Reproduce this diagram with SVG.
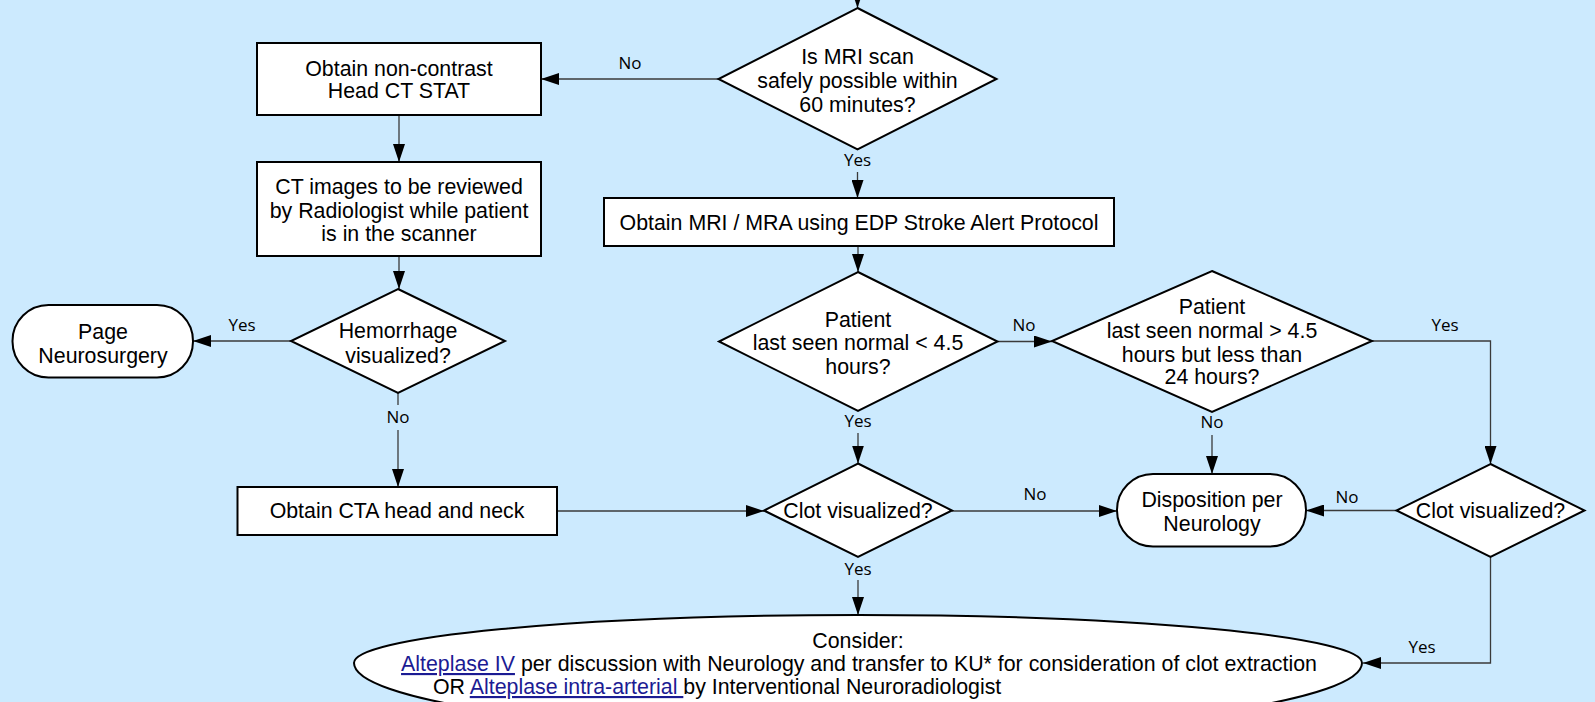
<svg xmlns="http://www.w3.org/2000/svg" width="1595" height="702" viewBox="0 0 1595 702">
<style>
.n{fill:#fff;stroke:#000;stroke-width:2}
.t{font-family:"Liberation Sans",Arial,sans-serif;font-size:21.35px;fill:#000;text-anchor:middle}
.l{font-family:"Open Sans","Noto Sans",sans-serif;font-size:17px;fill:#000;text-anchor:middle}
.c{fill:none;stroke:#3a3a3a;stroke-width:1.3}
.a{fill:#1b1b93;text-decoration:underline}
</style>
<defs>
<marker id="ah" markerUnits="userSpaceOnUse" markerWidth="18" markerHeight="12" refX="18" refY="6" orient="auto">
<path d="M0,0 L18,6 L0,12 z" fill="#000"/>
</marker>
</defs>
<rect width="1595" height="702" fill="#cceafe"/>
<g id="connectors">
<path class="c" d="M857.5,-10 V8" marker-end="url(#ah)"/>
<path class="c" d="M718.5,79 H541" marker-end="url(#ah)"/>
<text class="l" x="630" y="69">No</text>
<path class="c" d="M399,115 V162" marker-end="url(#ah)"/>
<path class="c" d="M399,256 V289" marker-end="url(#ah)"/>
<path class="c" d="M291,341 H193" marker-end="url(#ah)"/>
<text class="l" x="242" y="331">Yes</text>
<path class="c" d="M398,393 V405"/>
<path class="c" d="M398,430 V487" marker-end="url(#ah)"/>
<text class="l" x="398" y="423">No</text>
<path class="c" d="M857.5,172 V198" marker-end="url(#ah)"/>
<text class="l" x="857.5" y="166">Yes</text>
<path class="c" d="M858,246 V272" marker-end="url(#ah)"/>
<path class="c" d="M997.5,341.5 H1052" marker-end="url(#ah)"/>
<text class="l" x="1024" y="331">No</text>
<path class="c" d="M858,433 V463.5" marker-end="url(#ah)"/>
<text class="l" x="858" y="427">Yes</text>
<path class="c" d="M557,511 H764" marker-end="url(#ah)"/>
<path class="c" d="M952,511 H1117" marker-end="url(#ah)"/>
<text class="l" x="1035" y="500">No</text>
<path class="c" d="M1212,435 V474" marker-end="url(#ah)"/>
<text class="l" x="1212" y="428">No</text>
<path class="c" d="M1372,341 H1490.5 V464" marker-end="url(#ah)"/>
<text class="l" x="1445" y="331">Yes</text>
<path class="c" d="M1396.5,510.5 H1306" marker-end="url(#ah)"/>
<text class="l" x="1347" y="503">No</text>
<path class="c" d="M858,580 V615" marker-end="url(#ah)"/>
<text class="l" x="858" y="575">Yes</text>
<path class="c" d="M1490.5,557 V663 H1363" marker-end="url(#ah)"/>
<text class="l" x="1422" y="653">Yes</text>
</g>
<g id="box-ct">
<rect class="n" x="257" y="43" width="284" height="72"/>
<text class="t" x="399" y="76">Obtain non-contrast</text>
<text class="t" x="399" y="98">Head CT STAT</text>
</g>
<g id="box-review">
<rect class="n" x="257" y="162" width="284" height="94"/>
<text class="t" x="399" y="194">CT images to be reviewed</text>
<text class="t" x="399" y="217.5">by Radiologist while patient</text>
<text class="t" x="399" y="241">is in the scanner</text>
</g>
<g id="dec-mri">
<polygon class="n" points="857.5,8 996.5,79 857.5,149.5 718.5,79"/>
<text class="t" x="857.5" y="63.5">Is MRI scan</text>
<text class="t" x="857.5" y="87.5">safely possible within</text>
<text class="t" x="857.5" y="111.5">60 minutes?</text>
</g>
<g id="box-mri">
<rect class="n" x="604" y="198" width="510" height="48"/>
<text class="t" x="859" y="230">Obtain MRI / MRA using EDP Stroke Alert Protocol</text>
</g>
<g id="dec-hem">
<polygon class="n" points="398,289 505,341 398,393 291,341"/>
<text class="t" x="398" y="338">Hemorrhage</text>
<text class="t" x="398" y="362.5">visualized?</text>
</g>
<g id="term-neurosurgery">
<rect class="n" x="12.5" y="305" width="180.5" height="72.5" rx="36" ry="36"/>
<text class="t" x="103" y="338.5">Page</text>
<text class="t" x="103" y="362.5">Neurosurgery</text>
</g>
<g id="box-cta">
<rect class="n" x="237.5" y="487" width="319.5" height="48"/>
<text class="t" x="397" y="518">Obtain CTA head and neck</text>
</g>
<g id="dec-lt45">
<polygon class="n" points="858,272 997.5,341.5 858,411 719,341.5"/>
<text class="t" x="858" y="326.5">Patient</text>
<text class="t" x="858" y="349.5">last seen normal &lt; 4.5</text>
<text class="t" x="858" y="373.5">hours?</text>
</g>
<g id="dec-gt45">
<polygon class="n" points="1212,271 1372,341 1212,412 1052,341"/>
<text class="t" x="1212" y="314">Patient</text>
<text class="t" x="1212" y="338">last seen normal &gt; 4.5</text>
<text class="t" x="1212" y="361.5">hours but less than</text>
<text class="t" x="1212" y="384">24 hours?</text>
</g>
<g id="dec-clot1">
<polygon class="n" points="858,463.5 952,510.5 858,557 764,510.5"/>
<text class="t" x="858" y="518">Clot visualized?</text>
</g>
<g id="term-disposition">
<rect class="n" x="1117" y="474" width="189" height="72.5" rx="36" ry="36"/>
<text class="t" x="1212" y="507">Disposition per</text>
<text class="t" x="1212" y="531">Neurology</text>
</g>
<g id="dec-clot2">
<polygon class="n" points="1490.5,464 1584.5,510.5 1490.5,557 1396.5,510.5"/>
<text class="t" x="1490.5" y="518">Clot visualized?</text>
</g>
<g id="consider">
<path class="n" d="M354,663 A504,48 0 0 1 1362,663 A504,70 0 0 1 354,663 Z"/>
<text class="t" x="858" y="647.5">Consider:</text>
<text class="t" x="859" y="671"><tspan class="a">Alteplase IV</tspan> per discussion with Neurology and transfer to KU* for consideration of clot extraction</text>
<text class="t" x="433" y="694" style="text-anchor:start">OR <tspan class="a">Alteplase intra-arterial </tspan>by Interventional Neuroradiologist</text>
</g>
</svg>
